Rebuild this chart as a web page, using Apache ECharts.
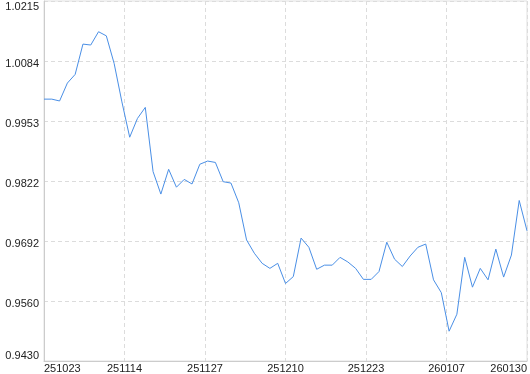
<!DOCTYPE html>
<html>
<head>
<meta charset="utf-8">
<script src="https://cdn.jsdelivr.net/npm/echarts@6/dist/echarts.min.js"></script>
<style>html,body{margin:0;padding:0;background:#fff;}#c{width:530px;height:374px;}</style>
</head>
<body>
<div id="c"></div>
<script>
var xTickLabels = ['251023','251114','251127','251210','251223','260107','260130'];
var yTickLabels = ['0.9430','0.9560','0.9692','0.9822','0.9953','1.0084','1.0215'];
var yMin = 0.9430;
var yMax = 1.0215;
var values = [
  1.0001, 1.0001, 0.9997, 1.0036, 1.0055, 1.0121, 1.0119, 1.0148, 1.0139, 1.0079,
  0.9995, 0.9918, 0.9959, 0.9983, 0.9843, 0.9794, 0.9848, 0.9809, 0.9826, 0.9816,
  0.9859, 0.9866, 0.9863, 0.9821, 0.9818, 0.9775, 0.9694, 0.9665, 0.9643, 0.9632,
  0.9643, 0.9599, 0.9614, 0.9698, 0.9678, 0.9630, 0.9639, 0.9639, 0.9656, 0.9646,
  0.9632, 0.9608, 0.9608, 0.9625, 0.9689, 0.9652, 0.9636, 0.9659, 0.9678, 0.9685,
  0.9607, 0.9579, 0.9495, 0.9532, 0.9656, 0.9591, 0.9632, 0.9607, 0.9674, 0.9613,
  0.9661, 0.9780, 0.9714
];

var seriesData = values.map(function (v, i) { return [i, v]; });
var gridColor = '#dcdcdc';
var chart = echarts.init(document.getElementById('c'), null, {renderer: 'canvas'});
chart.setOption({
  animation: false,
  backgroundColor: '#ffffff',
  grid: {left: 44, right: 3, top: 1, bottom: 13, show: true, borderColor: '#e0e0e0', borderWidth: 1,
         containLabel: false, outerBoundsMode: 'none'},
  xAxis: [
    {
      type: 'value', min: 0, max: xTickLabels.length - 1, interval: 1, position: 'bottom',
      axisLine: {show: true, lineStyle: {color: '#cccccc', width: 1}},
      axisTick: {show: false},
      splitLine: {show: true, lineStyle: {color: gridColor, type: [4, 3], width: 1}},
      axisLabel: {
        show: true, margin: 2, color: '#222', fontSize: 11, fontFamily: 'Liberation Sans, Arial, sans-serif',
        alignMinLabel: 'left', alignMaxLabel: 'right',
        formatter: function (v) { return xTickLabels[Math.round(v)]; }
      }
    },
    {type: 'value', min: 0, max: values.length - 1, show: false, position: 'bottom'}
  ],
  yAxis: [
    {
      type: 'value', min: 0, max: yTickLabels.length - 1, interval: 1, position: 'left',
      axisLine: {show: true, lineStyle: {color: '#cccccc', width: 1}},
      axisTick: {show: false},
      splitLine: {show: true, lineStyle: {color: gridColor, type: [4, 3], width: 1}},
      axisLabel: {
        show: true, margin: 5, color: '#222', fontSize: 11, fontFamily: 'Liberation Sans, Arial, sans-serif',
        formatter: function (v) {
          var i = Math.round(v);
          if (i === yTickLabels.length - 1) return '{t|' + yTickLabels[i] + '}';
          if (i === 0) return '{b|' + yTickLabels[i] + '}';
          return '{m|' + yTickLabels[i] + '}';
        },
        rich: {
          t: {fontSize: 11, lineHeight: 13, padding: [12, 0, 0, 0], color: '#222', fontFamily: 'Liberation Sans, Arial, sans-serif'},
          m: {fontSize: 11, lineHeight: 13, padding: [6, 0, 0, 0], color: '#222', fontFamily: 'Liberation Sans, Arial, sans-serif'},
          b: {fontSize: 11, lineHeight: 13, padding: [0, 0, 10, 0], color: '#222', fontFamily: 'Liberation Sans, Arial, sans-serif'}
        }
      }
    },
    {type: 'value', min: yMin, max: yMax, show: false, position: 'left'}
  ],
  series: [{
    type: 'line',
    xAxisIndex: 1,
    yAxisIndex: 1,
    data: seriesData,
    showSymbol: false,
    symbol: 'none',
    lineStyle: {color: '#4a8fe6', width: 1},
    silent: true
  }]
});
</script>
</body>
</html>
